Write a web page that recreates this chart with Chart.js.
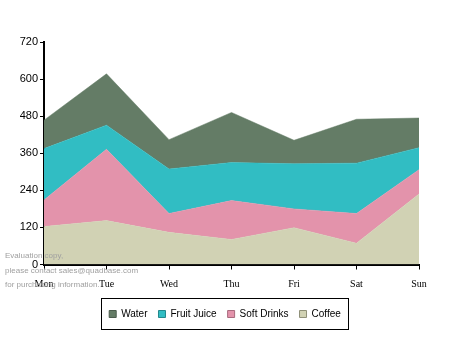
<!DOCTYPE html>
<html>
<head>
<meta charset="utf-8">
<script src="https://cdn.jsdelivr.net/npm/chart.js@4/dist/chart.umd.min.js"></script>
<style>
  html, body { margin: 0; padding: 0; background: #fff; }
  #wrap { width: 450px; height: 350px; }
</style>
</head>
<body>
<div id="wrap"><canvas id="chart" width="450" height="350"></canvas></div>
<script>
// categories and series (stack order: bottom first)
const days = ['Mon', 'Tue', 'Wed', 'Thu', 'Fri', 'Sat', 'Sun'];
const coffee = [123, 142, 104, 81, 119, 69, 228];
const softDrinks = [86, 231, 61, 126, 61, 96, 79];
const fruitJuice = [166, 78, 144, 123, 146, 163, 71];
const water = [92, 166, 95, 162, 76, 142, 96];
const yTicks = [0, 120, 240, 360, 480, 600, 720];

const SANS = '"Liberation Sans", Arial, sans-serif';
const SERIF = '"Liberation Serif", "Times New Roman", serif';

const COLORS = {
    water: { fill: '#647c66', border: '#4a5c4c' },
    juice: { fill: '#31bdc3', border: '#23888c' },
    soft: { fill: '#e393ab', border: '#a86a7d' },
    coffee: { fill: '#d1d2b4', border: '#8f9078' },
};

function areaSet(label, data, c, fill) {
    return {
        label: label,
        data: data,
        fill: fill,
        backgroundColor: c.fill,
        borderColor: c.fill,
        borderWidth: 0.5,
        pointRadius: 0,
        tension: 0,
        legendBorder: c.border,
    };
}

// center the legend under the page (not under the y axis side), border box, watermark
const extras = {
    id: 'extras',
    afterLayout(chart) {
        const lg = chart.legend;
        lg.left = 31;
        lg.right = 419;
        lg.width = 388;
    },
    afterDraw(chart) {
        const ctx = chart.ctx;
        const boxes = chart.legend.legendHitBoxes;
        if (boxes && boxes.length) {
            const first = boxes[0];
            const last = boxes[boxes.length - 1];
            const cy = first.top + first.height / 2;
            ctx.save();
            ctx.strokeStyle = '#000';
            ctx.lineWidth = 1;
            ctx.strokeRect(Math.round(first.left) - 7.5, Math.round(cy) - 15.5,
                Math.round(last.left + last.width - first.left) + 15, 31);
            ctx.restore();
        }
        ctx.save();
        ctx.font = '8px ' + SANS;
        ctx.fillStyle = '#a0a0a0';
        ctx.textBaseline = 'alphabetic';
        ctx.fillText('Evaluation copy,', 5, 258);
        ctx.fillText('please contact sales@quadbase.com', 5, 273);
        ctx.fillText('for purchasing information.', 5, 287);
        ctx.restore();
    }
};

new Chart(document.getElementById('chart'), {
    type: 'line',
    data: {
        labels: days,
        datasets: [
            areaSet('Coffee', coffee, COLORS.coffee, 'origin'),
            areaSet('Soft Drinks', softDrinks, COLORS.soft, '-1'),
            areaSet('Fruit Juice', fruitJuice, COLORS.juice, '-1'),
            areaSet('Water', water, COLORS.water, '-1'),
        ]
    },
    options: {
        responsive: false,
        animation: false,
        devicePixelRatio: 1,
        layout: { padding: { left: 0, right: 31, top: 42, bottom: 21 } },
        plugins: {
            tooltip: { enabled: false },
            legend: {
                position: 'bottom',
                reverse: true,
                labels: {
                    boxWidth: 7,
                    boxHeight: 7,
                    padding: 11,
                    color: '#000',
                    font: { family: SANS, size: 10 },
                    generateLabels(chart) {
                        return chart.data.datasets.map((ds, i) => ({
                            text: ds.label,
                            fillStyle: ds.backgroundColor,
                            strokeStyle: ds.legendBorder,
                            lineWidth: 1,
                            datasetIndex: i,
                            hidden: false,
                        }));
                    }
                }
            }
        },
        scales: {
            x: {
                offset: false,
                grid: { display: true, drawOnChartArea: false, drawTicks: true, tickLength: 5, color: '#000' },
                border: { display: true, color: '#000', width: 2 },
                ticks: { color: '#000', padding: 9, maxRotation: 0, font: { family: SERIF, size: 10 } },
                afterFit(scale) { scale.height = 33.5; }
            },
            y: {
                stacked: true,
                min: 0,
                max: 720,
                afterBuildTicks(scale) { scale.ticks = yTicks.map(v => ({ value: v })); },
                grid: { display: true, drawOnChartArea: false, drawTicks: true, tickLength: 4, color: '#000' },
                border: { display: true, color: '#000', width: 2 },
                ticks: { color: '#000', padding: 2, font: { family: SANS, size: 11 } },
                afterFit(scale) { scale.width = 44; }
            }
        }
    },
    plugins: [extras]
});
</script>
</body>
</html>
